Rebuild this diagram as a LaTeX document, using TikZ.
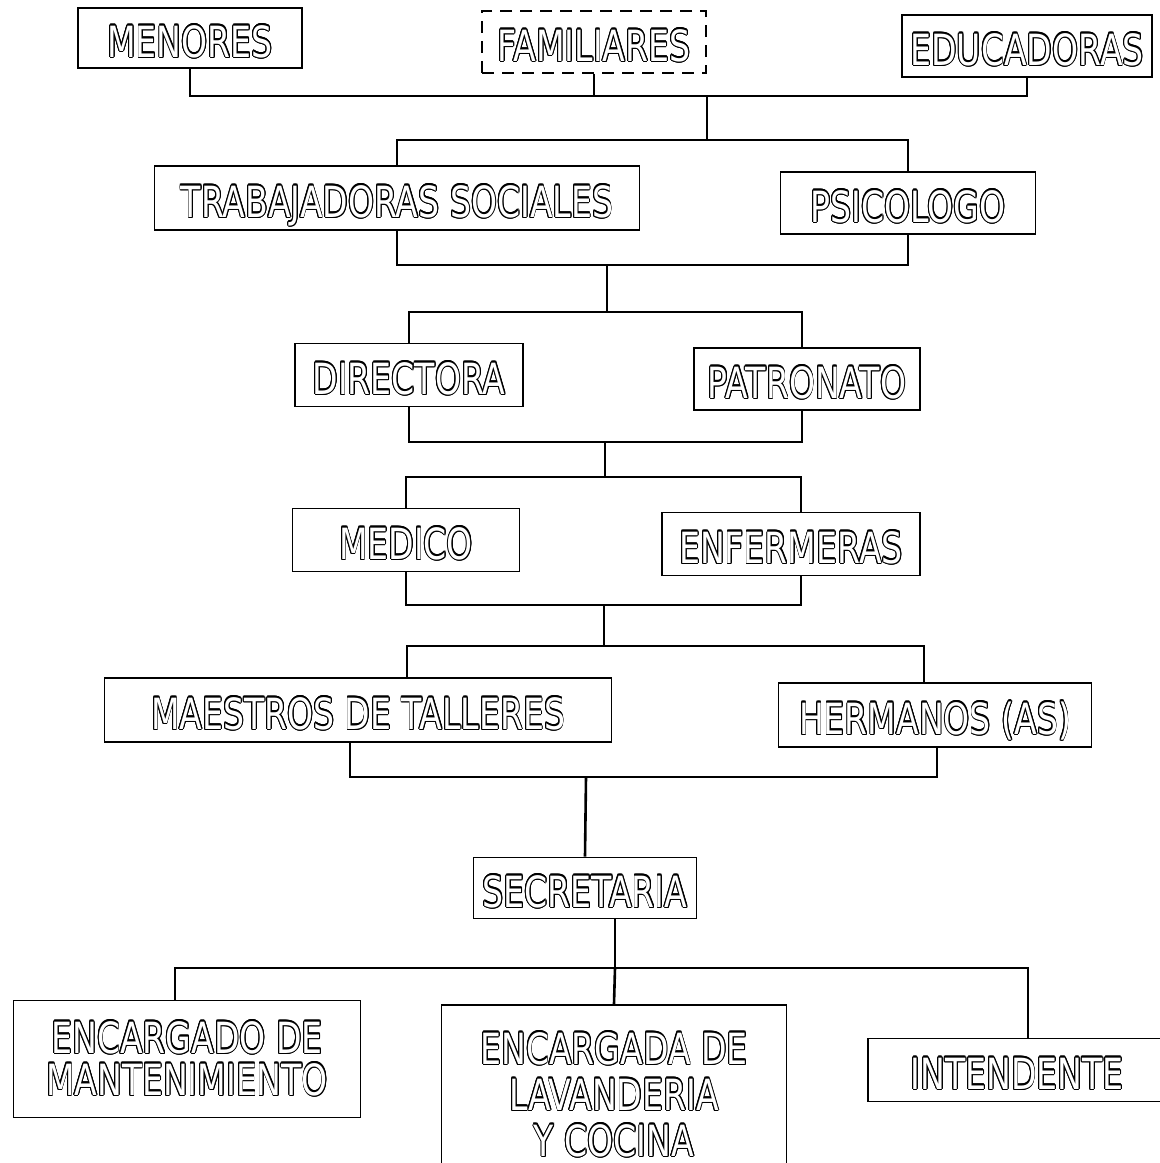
\documentclass[tikz,border=0pt]{standalone}
\usepackage{fontspec}
\setmainfont{DejaVu Sans}
\usepackage{graphicx}
\usepackage{contour}
\contourlength{1.2pt}
\newcommand{\otext}[1]{\scalebox{0.77}[1]{\contour{black}{\textcolor{white}{#1}}}}
\begin{document}
\begin{tikzpicture}[x=1pt,y=-1pt,
  box/.style={draw, line width=1.8pt, fill=white, inner sep=0pt, align=center,
              font=\fontsize{43}{42}\selectfont},
  one/.style={box, text height=38pt, text depth=0pt},
  conn/.style={line width=2.6pt}]
\useasboundingbox[fill=white] (0,0) rectangle (1160,1163);

\node[one, minimum width=224pt, minimum height=60pt] (men) at (190,38) {\otext{MENORES}};
\node[one, dash pattern=on 12pt off 8pt, minimum width=224pt, minimum height=62pt] (fam) at (594,42) {\otext{FAMILIARES}};
\node[one, minimum width=250pt, minimum height=62pt] (edu) at (1027,46) {\otext{EDUCADORAS}};

\node[one, minimum width=485pt, minimum height=64pt] (ts) at (397,198) {\otext{TRABAJADORAS SOCIALES}};
\node[one, minimum width=255pt, minimum height=62pt] (ps) at (908,203) {\otext{PSICOLOGO}};

\node[one, minimum width=228pt, minimum height=63pt] (dir) at (409,375) {\otext{DIRECTORA}};
\node[one, minimum width=226pt, minimum height=62pt] (pat) at (807,379) {\otext{PATRONATO}};

\node[one, minimum width=227pt, minimum height=63pt] (med) at (406,540) {\otext{MEDICO}};
\node[one, minimum width=258pt, minimum height=63pt] (enf) at (791,544) {\otext{ENFERMERAS}};

\node[one, minimum width=507pt, minimum height=64pt] (mae) at (358,710) {\otext{MAESTROS DE TALLERES}};
\node[one, minimum width=313pt, minimum height=64pt] (her) at (935,715) {\otext{HERMANOS (AS)}};

\node[one, minimum width=223pt, minimum height=61pt] (sec) at (585,888) {\otext{SECRETARIA}};

\node[box, minimum width=347pt, minimum height=117pt] (man) at (187,1059) {\otext{ENCARGADO DE}\\\otext{MANTENIMIENTO}};
\node[box, minimum width=345pt, minimum height=180pt, font=\fontsize{43}{46}\selectfont] (lav) at (614,1095) {\otext{ENCARGADA DE}\\\otext{LAVANDERIA}\\\otext{Y COCINA}};
\node[one, minimum width=298pt, minimum height=63pt] (int) at (1017,1070) {\otext{INTENDENTE}};

% level 1
\coordinate (b1) at (707,96);
\draw[conn] (men.south) |- (b1) -| (edu.south);
\draw[conn] (fam.south) -- (fam.south |- b1);
\coordinate (t2) at (707,140);
\draw[conn] (b1) -- (t2);
\draw[conn] (ts.north) |- (t2) -| (ps.north);
% level 2
\coordinate (d2) at (607,265);
\draw[conn] (ts.south) |- (d2) -| (ps.south);
\coordinate (t3) at (607,312);
\draw[conn] (d2) -- (t3);
\draw[conn] (dir.north) |- (t3) -| ([xshift=-5pt]pat.north);
% level 3
\coordinate (d3) at (605,442);
\draw[conn] (dir.south) |- (d3) -| ([xshift=-5pt]pat.south);
\coordinate (t4) at (605,477);
\draw[conn] (d3) -- (t4);
\draw[conn] (med.north) |- (t4) -| ([xshift=10pt]enf.north);
% level 4
\coordinate (d4) at (604,605);
\draw[conn] (med.south) |- (d4) -| ([xshift=10pt]enf.south);
\coordinate (t5) at (604,646);
\draw[conn] (d4) -- (t5);
\draw[conn] ([xshift=49pt]mae.north) |- (t5) -| ([xshift=-11pt]her.north);
% level 5
\coordinate (d5) at (586,777);
\draw[conn] ([xshift=-8pt]mae.south) |- (d5) -| ([xshift=2pt]her.south);
\draw[conn] (d5) -- (sec.north);
% level 6
\coordinate (b6) at (615,968);
\draw[conn] ([xshift=30pt]sec.south) -- (b6);
\draw[conn] ([xshift=-12pt]man.north) |- (b6) -| ([xshift=11pt]int.north);
\draw[conn] (b6) -- (lav.north);
\end{tikzpicture}
\end{document}
